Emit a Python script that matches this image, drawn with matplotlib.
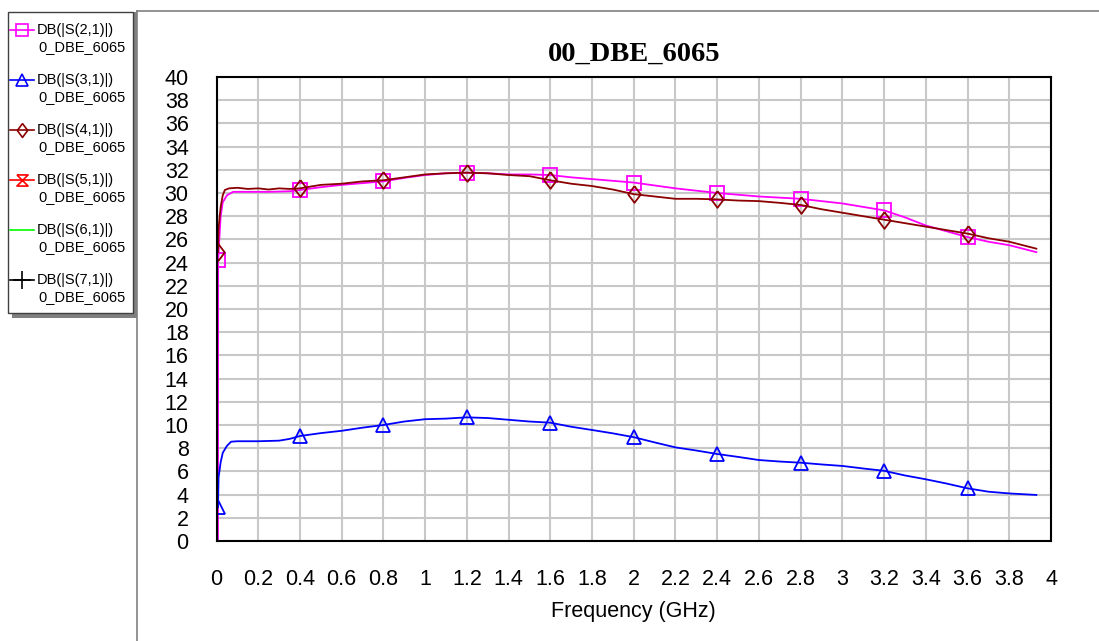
import numpy as np
import matplotlib
matplotlib.use("Agg")
import matplotlib.pyplot as plt
from matplotlib.lines import Line2D
from matplotlib.patches import Rectangle
from matplotlib.ticker import MultipleLocator, FormatStrFormatter

plt.rcParams['font.family'] = ['Liberation Sans', 'DejaVu Sans']

# data (GHz, dB)
title = "00_DBE_6065"
marker_freqs = [0.0, 0.4, 0.8, 1.2, 1.6, 2.0, 2.4, 2.8, 3.2, 3.6]

f21 = [0.007, 0.008, 0.015, 0.02, 0.03, 0.05, 0.08, 0.15, 0.25, 0.35, 0.4, 0.5, 0.6, 0.7, 0.8, 0.9,
       1.0, 1.1, 1.2, 1.3, 1.4, 1.5, 1.6, 1.7, 1.8, 1.9, 2.0, 2.1, 2.2, 2.3, 2.4, 2.5, 2.6, 2.7, 2.8,
       2.9, 3.0, 3.1, 3.2, 3.3, 3.4, 3.5, 3.6, 3.7, 3.8, 3.93]
s21 = [-3, 24.2, 26.5, 28.0, 29.2, 29.8, 30.1, 30.1, 30.1, 30.15, 30.26, 30.5, 30.7, 30.85, 31.0, 31.3,
       31.55, 31.7, 31.75, 31.7, 31.6, 31.6, 31.55, 31.35, 31.2, 31.05, 30.9, 30.65, 30.4, 30.2, 30.0,
       29.85, 29.7, 29.6, 29.5, 29.3, 29.1, 28.8, 28.5, 27.9, 27.2, 26.7, 26.2, 25.8, 25.5, 24.9]

f31 = [0.007, 0.01, 0.02, 0.03, 0.05, 0.07, 0.1, 0.2, 0.3, 0.35, 0.4, 0.5, 0.6, 0.7, 0.8, 0.9, 1.0,
       1.1, 1.2, 1.3, 1.4, 1.5, 1.6, 1.7, 1.8, 1.9, 2.0, 2.1, 2.2, 2.3, 2.4, 2.5, 2.6, 2.7, 2.8, 2.9,
       3.0, 3.1, 3.2, 3.3, 3.4, 3.5, 3.6, 3.7, 3.8, 3.93]
s31 = [2.9, 5.5, 6.8, 7.6, 8.2, 8.56, 8.6, 8.6, 8.65, 8.8, 9.05, 9.3, 9.5, 9.77, 10.0, 10.3, 10.5,
       10.55, 10.66, 10.6, 10.45, 10.3, 10.2, 9.85, 9.57, 9.28, 8.95, 8.5, 8.07, 7.8, 7.5, 7.25, 6.98,
       6.85, 6.75, 6.6, 6.47, 6.25, 6.05, 5.65, 5.32, 4.95, 4.54, 4.25, 4.1, 3.97]

f41 = [0.007, 0.01, 0.02, 0.03, 0.04, 0.06, 0.1, 0.15, 0.2, 0.25, 0.3, 0.35, 0.4, 0.5, 0.6, 0.7, 0.8,
       0.9, 1.0, 1.1, 1.2, 1.3, 1.4, 1.5, 1.6, 1.7, 1.8, 1.9, 2.0, 2.1, 2.2, 2.3, 2.4, 2.5, 2.6, 2.7,
       2.8, 2.9, 3.0, 3.1, 3.2, 3.3, 3.4, 3.5, 3.6, 3.7, 3.8, 3.93]
s41 = [24.9, 27.0, 28.8, 29.8, 30.26, 30.4, 30.45, 30.35, 30.4, 30.3, 30.4, 30.35, 30.4, 30.7, 30.8,
       31.0, 31.1, 31.35, 31.6, 31.7, 31.75, 31.7, 31.55, 31.45, 31.1, 30.8, 30.6, 30.3, 29.9, 29.7,
       29.5, 29.5, 29.45, 29.35, 29.3, 29.15, 28.97, 28.6, 28.3, 28.0, 27.7, 27.4, 27.1, 26.8, 26.5,
       26.1, 25.8, 25.2]

legend_names = ["DB(|S(2,1)|)", "DB(|S(3,1)|)", "DB(|S(4,1)|)",
                "DB(|S(5,1)|)", "DB(|S(6,1)|)", "DB(|S(7,1)|)"]
legend_sub = "0_DBE_6065"

W, H = 1099, 641
def fx(px): return px / W
def fy(py): return 1 - py / H

def mark_idx(freqs, vals):
    # first point carrying a marker is the first visible one
    idx = []
    for m in marker_freqs:
        if m == 0.0:
            idx.append(next(i for i, v in enumerate(vals) if v > 0))
        else:
            idx.append(int(np.argmin(np.abs(np.array(freqs) - m))))
    return idx

bowtie = [(-1, 1), (1, 1), (-1, -1), (1, -1), (-1, 1)]
diamond = [(0, 1), (0.75, 0), (0, -1), (-0.75, 0), (0, 1)]

fig = plt.figure(figsize=(W / 100, H / 100), dpi=100)

ax = fig.add_axes([fx(216.5), fy(541), fx(1051) - fx(216.5), fy(77) - fy(541)])
ax.plot(f21, s21, color='#FF00FF', lw=1.3, marker='s', ms=10.5, mfc='none', mew=1.3,
        markevery=mark_idx(f21, s21))
ax.plot(f31, s31, color='#0000FF', lw=1.3, marker='^', ms=10, mfc='none', mew=1.3,
        markevery=mark_idx(f31, s31))
ax.plot(f41, s41, color='#8B0000', lw=1.3, marker=diamond, ms=12, mfc='none', mew=1.3,
        markevery=mark_idx(f41, s41))

ax.set_xlim(0, 4)
ax.set_ylim(0, 40)
ax.xaxis.set_major_locator(MultipleLocator(0.2))
ax.yaxis.set_major_locator(MultipleLocator(2))
ax.xaxis.set_major_formatter(FormatStrFormatter('%g'))
ax.yaxis.set_major_formatter(FormatStrFormatter('%g'))
ax.grid(True, color='#C8C8C8', lw=1.5)
ax.set_axisbelow(True)
ax.tick_params(length=0, labelsize=15.5, pad=20)
for s in ax.spines.values():
    s.set_linewidth(1.5)
    s.set_color('black')
ax.set_xlabel("Frequency (GHz)", fontsize=15.5, labelpad=8)
ax.set_title(title, fontsize=20.5, fontweight='bold', family='Liberation Serif', pad=12)

# panel frame lines
fig.add_artist(Line2D([fx(137), fx(137)], [0, fy(11)], color='#808080', lw=1.2))
fig.add_artist(Line2D([fx(137), 1], [fy(11), fy(11)], color='#808080', lw=1.2))

# legend box with shadow
fig.add_artist(Rectangle((fx(12), fy(318)), fx(125), fy(12) - fy(318), transform=fig.transFigure,
                         facecolor='#808080', edgecolor='none'))
fig.add_artist(Rectangle((fx(8), fy(313)), fx(125), fy(12) - fy(313), transform=fig.transFigure,
                         facecolor='white', edgecolor='#404040', lw=1.0))

leg_styles = [
    dict(color='#FF00FF', marker='s', ms=9),
    dict(color='#0000FF', marker='^', ms=9),
    dict(color='#8B0000', marker=diamond, ms=10),
    dict(color='#FF0000', marker=bowtie, ms=8),
    dict(color='#00FF00', marker=None, ms=0),
    dict(color='#000000', marker='+', ms=13),
]
for i, (name, st) in enumerate(zip(legend_names, leg_styles)):
    y1 = 30 + 50 * i
    fig.add_artist(Line2D([fx(10), fx(34)], [fy(y1), fy(y1)], color=st['color'], lw=1.2))
    if st['marker'] is not None:
        fig.add_artist(Line2D([fx(22)], [fy(y1)], color=st['color'], marker=st['marker'],
                              ms=st['ms'], mfc='none', mew=1.2, lw=0))
    fig.text(fx(37), fy(y1), name, fontsize=10.5, va='center', ha='left')
    fig.text(fx(38), fy(y1 + 17), legend_sub, fontsize=10.5, va='center', ha='left')

fig.savefig("out.png", dpi=100)
